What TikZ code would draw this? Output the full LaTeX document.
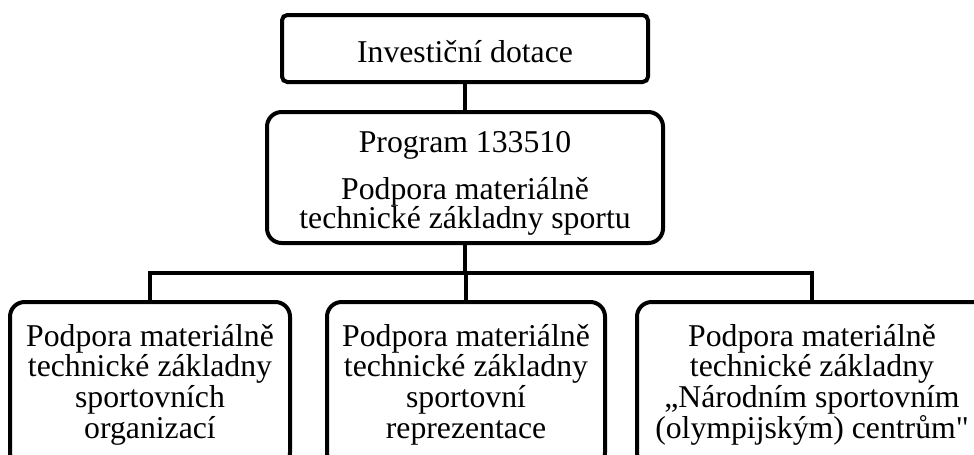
\documentclass[tikz,border=0pt]{standalone}
\usepackage{fontspec}
\setmainfont{Liberation Serif}[Ligatures=TeXOff]
\usepackage{tikz}

\begin{document}
\begin{tikzpicture}[x=0.75pt,y=-0.75pt,line width=3pt,
  top node/.style={draw,rounded corners=4pt,align=center,inner sep=0pt,
        font=\fontsize{23.8}{23}\selectfont},
  main node/.style={draw,rounded corners=11pt,align=center,inner sep=0pt,
        font=\fontsize{23.8}{23}\selectfont},
  leaf node/.style={main node,minimum height=123.75pt,anchor=north}]
  \useasboundingbox (0,0) rectangle (974,454);
  \clip (0,0) rectangle (974,454);

  \node[top node,minimum width=274.5pt,minimum height=50.25pt] (invest) at (465,48.5)
    {\rule{0pt}{20.5pt}Investiční dotace};
  \node[main node,minimum width=297pt,minimum height=98.25pt] (prog) at (465,177.5)
    {\rule{0pt}{25pt}Program 133510\\[12.25pt]Podpora materiálně\\[-1pt]technické základny sportu};
  \node[leaf node,minimum width=210pt] (org) at (150,300)
    {Podpora materiálně\\technické základny\\sportovních\\organizací};
  \node[leaf node,minimum width=208.5pt] (repre) at (466,300)
    {Podpora materiálně\\technické základny\\sportovní\\reprezentace};
  \node[leaf node,minimum width=262.5pt] (centra) at (812,300)
    {Podpora materiálně\\technické základny\\„Národním sportovním\\(olympijským) centrům"};

  \coordinate (bus) at (465,273);

  \draw (invest) -- (prog);
  \draw (prog) -- (bus);
  \draw (org.north) |- (bus) -| (centra.north);
  \draw (bus -| repre.north) -- (repre.north);
\end{tikzpicture}
\end{document}
